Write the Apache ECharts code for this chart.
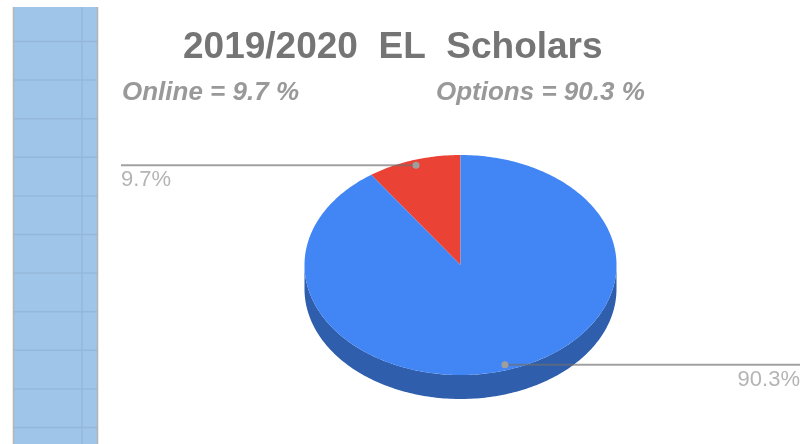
<!DOCTYPE html>
<html>
<head>
<meta charset="utf-8">
<title>2019/2020 EL Scholars</title>
<style>
html, body { margin: 0; padding: 0; background: #fff; }
/* the reference is a slightly soft screenshot */
#chart { width: 808px; height: 444px; filter: blur(0.5px); }
</style>
<script src="https://cdn.jsdelivr.net/npm/echarts@6/dist/echarts.min.js"></script>
</head>
<body>
<div id="chart"></div>
<script>
// values
var categories = ['Online', 'Options'];
var values = [9.7, 90.3];
var valueLabels = ['9.7%', '90.3%'];
var summaries = ['Online = 9.7 %', 'Options = 90.3 %'];
var chartTitle = '2019/2020  EL  Scholars';

var colors = ['#ea4335', '#4285f4'];
var sideColors = ['#a52714', '#2f5ead'];

// pie geometry
var cx = 460.5, cy = 265, rx = 156, ry = 110, depth = 24;
var total = values[0] + values[1];

function rim(t, k, dy) {
    // t is the share of the turn, counted counter clockwise from 12 o'clock
    var a = t * 2 * Math.PI;
    return [cx - Math.sin(a) * rx * k, cy - Math.cos(a) * ry * k + (dy || 0)];
}

function arcPoints(from, to, dy) {
    var pts = [], n = Math.max(2, Math.ceil(Math.abs(to - from) * 360));
    for (var i = 0; i <= n; i++) {
        pts.push(rim(from + (to - from) * i / n, 1, dy));
    }
    return pts;
}

function renderSlice(params, api) {
    var i = params.dataIndex;
    var before = 0;
    for (var j = 0; j < i; j++) before += values[j];
    var from = before / total;
    var to = (before + api.value(0)) / total;
    var children = [];

    // side wall, only the front half of the rim shows (shares 0.25 to 0.75)
    var s0 = Math.max(from, 0.25), s1 = Math.min(to, 0.75);
    if (s1 > s0) {
        children.push({
            type: 'polygon',
            shape: { points: arcPoints(s0, s1, 0).concat(arcPoints(s1, s0, depth)) },
            style: { fill: sideColors[i] }
        });
    }

    children.push({
        type: 'polygon',
        shape: { points: [[cx, cy]].concat(arcPoints(from, to, 0)) },
        style: { fill: colors[i] }
    });
    return { type: 'group', children: children };
}

function renderLeader(params, api) {
    var i = params.dataIndex;
    var before = 0;
    for (var j = 0; j < i; j++) before += values[j];
    var mid = (before + api.value(0) / 2) / total;
    var dot = rim(mid, 0.95);
    var onLeft = dot[0] < cx;
    var endX = onLeft ? 121 : 800;
    return {
        type: 'group',
        children: [{
            type: 'line',
            shape: { x1: dot[0], y1: dot[1], x2: endX, y2: dot[1] },
            style: { stroke: '#6f6f6f', lineWidth: 2, opacity: 0.65 }
        }, {
            type: 'circle',
            shape: { cx: dot[0], cy: dot[1], r: 3.5 },
            style: { fill: '#9e9e9e' }
        }, {
            type: 'text',
            x: endX,
            y: dot[1] + 4,
            style: {
                text: valueLabels[i],
                align: onLeft ? 'left' : 'right',
                verticalAlign: 'top',
                fill: '#b4b4b4',
                font: '22px "Liberation Sans", Arial, sans-serif'
            }
        }]
    };
}

// spreadsheet strip on the left
var strip = [{
    type: 'rect',
    shape: { x: 13, y: 7, width: 85, height: 437 },
    style: { fill: '#9fc5e8' }
}];
for (var y = 41.5; y < 444; y += 38.6) {
    strip.push({
        type: 'line',
        shape: { x1: 14, y1: y, x2: 97, y2: y },
        style: { stroke: '#94b8da', lineWidth: 1.5 }
    });
}
strip.push({
    type: 'line',
    shape: { x1: 82, y1: 7, x2: 82, y2: 444 },
    style: { stroke: '#94b8da', lineWidth: 1.5 }
});
strip.push({
    type: 'line',
    shape: { x1: 13.5, y1: 7, x2: 13.5, y2: 444 },
    style: { stroke: '#b4b4b4', lineWidth: 1.5 }
});
strip.push({
    type: 'line',
    shape: { x1: 97.5, y1: 7, x2: 97.5, y2: 444 },
    style: { stroke: '#b4b4b4', lineWidth: 1.5 }
});

var sliceData = categories.map(function(name, i) {
    return { name: name, value: values[i] };
});

var myChart = echarts.init(document.getElementById('chart'), null, { renderer: 'canvas' });

var option = {
    animation: false,
    backgroundColor: '#fff',
    title: [{
        text: chartTitle,
        left: 178,
        top: 24,
        textStyle: { color: '#757575', fontSize: 37, fontWeight: 'bold', fontFamily: 'Liberation Sans' }
    }, {
        text: summaries[0],
        left: 117,
        top: 75,
        textStyle: { color: '#999999', fontSize: 26, fontWeight: 'bold', fontStyle: 'italic', fontFamily: 'Liberation Sans' }
    }, {
        text: summaries[1],
        left: 431,
        top: 75,
        textStyle: { color: '#999999', fontSize: 26, fontWeight: 'bold', fontStyle: 'italic', fontFamily: 'Liberation Sans' }
    }],
    graphic: { elements: [{ type: 'group', silent: true, children: strip }] },
    series: [{
        type: 'custom',
        coordinateSystem: 'none',
        renderItem: renderSlice,
        data: sliceData,
        z: 2
    }, {
        type: 'custom',
        coordinateSystem: 'none',
        renderItem: renderLeader,
        data: sliceData,
        z: 3
    }]
};

myChart.setOption(option);
</script>
</body>
</html>
